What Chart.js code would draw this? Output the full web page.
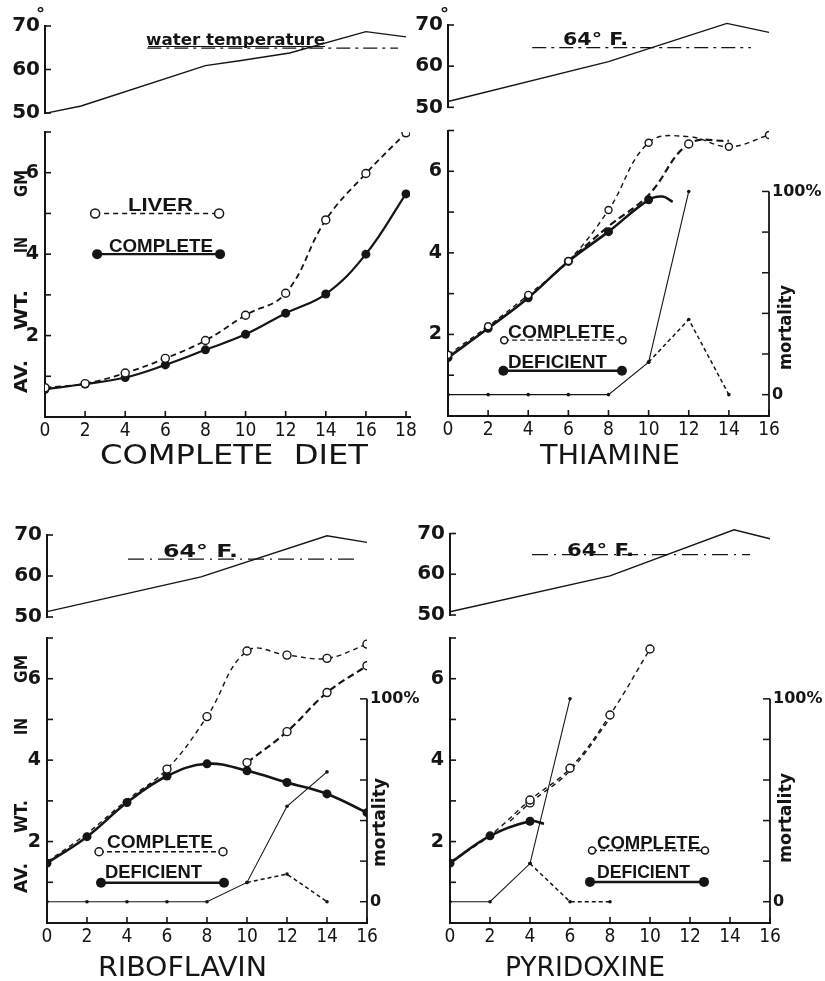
<!DOCTYPE html>
<html><head><meta charset="utf-8">
<script src="https://cdn.jsdelivr.net/npm/chart.js@4"></script>
<style>
html,body{margin:0;padding:0;background:#fff;}
body{width:825px;height:981px;position:relative;overflow:hidden;}
canvas{position:absolute;}
</style></head><body>
<script>
// ================= DATA =================
const tempTicks = [50, 60, 70];
const weightTicks = [1, 2, 3, 4, 5, 6, 7];
const weightLabels = [2, 4, 6];
const mortTicks = [0, 20, 40, 60, 80, 100];
const mortLabels = [0, 100];

// Panel 1 - complete diet
const p1XTicks = [0, 2, 4, 6, 8, 10, 12, 14, 16, 18];
const p1Days = [0, 2, 4, 6, 8, 10, 12, 14, 16, 18];
const p1Liver = [0.72, 0.82, 1.08, 1.44, 1.88, 2.5, 3.04, 4.84, 5.98, 6.98];
const p1Complete = [0.68, 0.81, 0.97, 1.28, 1.65, 2.03, 2.55, 3.02, 4.0, 5.48];
const p1TempDays = [0, 1.8, 8, 9.7, 12.2, 16, 18];
const p1Temp = [49.9, 51.6, 60.9, 62.0, 63.8, 68.7, 67.5];
const p1RefDays = [5.1, 17.6];
const p1Ref = 64.9;

// Panel 2 - thiamine
const p2XTicks = [0, 2, 4, 6, 8, 10, 12, 14, 16];
const p2Days = [0, 2, 4, 6, 8, 10, 12, 14, 16];
const p2Complete = [1.5, 2.2, 2.97, 3.8, 5.05, 6.7, 6.85, 6.6, 6.89];
const p2RecDays = [6, 8, 10, 12, 14];
const p2Rec = [3.8, 4.65, 5.42, 6.67, 6.75];
const p2DefDays = [0, 2, 4, 6, 8, 10];
const p2Def = [1.43, 2.15, 2.9, 3.79, 4.52, 5.3];
const p2DefTailDays = [10.7, 11.2];
const p2DefTail = [5.38, 5.25];
const p2MortDefDays = [0, 2, 4, 6, 8, 10, 12];
const p2MortDef = [0, 0, 0, 0, 0, 16, 100];
const p2MortRecDays = [10, 12, 14];
const p2MortRec = [16, 37, 0];
const p2TempDays = [0, 8, 13.9, 16];
const p2Temp = [51.4, 61.1, 70.4, 68.2];
const p2RefDays = [4.2, 15.1];
const p2Ref = 64.5;

// Panel 3 - riboflavin
const p3XTicks = [0, 2, 4, 6, 8, 10, 12, 14, 16];
const p3Days = [0, 2, 4, 6, 8, 10, 12, 14, 16];
const p3Complete = [1.5, 2.2, 3.02, 3.78, 5.07, 6.68, 6.58, 6.5, 6.85];
const p3RecDays = [10, 12, 14, 16];
const p3Rec = [3.94, 4.7, 5.66, 6.32];
const p3Def = [1.47, 2.12, 2.96, 3.61, 3.91, 3.74, 3.45, 3.17, 2.71];
const p3MortDefDays = [0, 2, 4, 6, 8, 10, 12, 14];
const p3MortDef = [0, 0, 0, 0, 0, 9.5, 47, 64];
const p3MortRecDays = [10, 12, 14];
const p3MortRec = [9.5, 13.6, 0];
const p3TempDays = [0, 7.7, 14, 16];
const p3Temp = [51.3, 59.8, 69.8, 68.2];
const p3RefDays = [4.05, 15.5];
const p3Ref = 64.1;

// Panel 4 - pyridoxine
const p4XTicks = [0, 2, 4, 6, 8, 10, 12, 14, 16];
const p4CompDays = [0, 2, 4, 6, 8, 10];
const p4Complete = [1.5, 2.15, 3.02, 3.8, 5.11, 6.73];
const p4RecDays = [3, 4, 6, 8];
const p4Rec = [2.5, 2.95, 3.74, 5.02];
const p4DefDays = [0, 2, 4];
const p4Def = [1.47, 2.14, 2.5];
const p4DefTailDays = [4.7];
const p4DefTail = [2.44];
const p4MortDefDays = [0, 2, 4, 6];
const p4MortDef = [0, 0, 18.8, 100];
const p4MortRecDays = [4, 6, 8];
const p4MortRec = [18.8, 0, 0];
const p4TempDays = [0, 8, 14.2, 16];
const p4Temp = [50.8, 59.6, 70.9, 68.7];
const p4RefDays = [4.1, 15];
const p4Ref = 64.8;

// ================= STYLE / HELPERS =================
const INK = '#151515';
const F_NARROW = "'Liberation Sans Narrow','DejaVu Sans Condensed','Liberation Sans',sans-serif";
const F_BOLD = "'DejaVu Sans','Liberation Sans',sans-serif";
const F_LEG = "'Liberation Sans','DejaVu Sans',sans-serif";

function pts(xs, ys) { return xs.map((x, i) => ({ x: x, y: ys[i] })); }

function addCanvas(box) {
  const c = document.createElement('canvas');
  c.width = box.w; c.height = box.h;
  c.style.left = box.x + 'px'; c.style.top = box.y + 'px';
  c.style.width = box.w + 'px'; c.style.height = box.h + 'px';
  document.body.appendChild(c);
  return c;
}

function fitText(ctx, box, text, x1, x2, base, font) {
  ctx.save();
  ctx.font = font; ctx.fillStyle = INK; ctx.textAlign = 'left'; ctx.textBaseline = 'alphabetic';
  const w = ctx.measureText(text).width;
  ctx.translate(x1 - box.x, base - box.y);
  ctx.scale((x2 - x1) / w, 1);
  ctx.fillText(text, 0, 0);
  ctx.restore();
}
function fitTextV(ctx, box, text, cx, yBottom, yTop, font) {
  ctx.save();
  ctx.font = font; ctx.fillStyle = INK; ctx.textAlign = 'left'; ctx.textBaseline = 'middle';
  const w = ctx.measureText(text).width;
  ctx.translate(cx - box.x, yBottom - box.y);
  ctx.rotate(-Math.PI / 2);
  ctx.scale((yBottom - yTop) / w, 1);
  ctx.fillText(text, 0, 0);
  ctx.restore();
}
function line(ctx, x1, y1, x2, y2, w, dash) {
  ctx.save();
  ctx.strokeStyle = INK; ctx.lineWidth = w; ctx.setLineDash(dash || []);
  ctx.beginPath(); ctx.moveTo(x1, y1); ctx.lineTo(x2, y2); ctx.stroke();
  ctx.restore();
}
function dot(ctx, x, y, r, open) {
  ctx.save();
  ctx.beginPath(); ctx.arc(x, y, r, 0, Math.PI * 2);
  if (open) { ctx.fillStyle = '#fff'; ctx.fill(); ctx.strokeStyle = INK; ctx.lineWidth = 1.5; ctx.stroke(); }
  else { ctx.fillStyle = INK; ctx.fill(); }
  ctx.restore();
}
function legendRow(ch, x1, x2, y, open, dash, lw, r) {
  const sx = ch.scales.x, sy = ch.scales.y, ctx = ch.ctx;
  const px1 = sx.getPixelForValue(x1), px2 = sx.getPixelForValue(x2), py = sy.getPixelForValue(y);
  line(ctx, px1, py, px2, py, lw, dash);
  dot(ctx, px1, py, r, open); dot(ctx, px2, py, r, open);
}

function solidDs(data, radii, extra) {
  return Object.assign({ data: data, borderColor: INK, backgroundColor: INK, borderWidth: 2.6, tension: 0.4,
    pointRadius: radii, pointBackgroundColor: INK, pointBorderColor: INK, pointBorderWidth: 0, fill: false }, extra || {});
}
function dashDs(data, dash, width, radii, extra) {
  return Object.assign({ data: data, borderColor: INK, backgroundColor: '#fff', borderWidth: width, borderDash: dash, tension: 0.4,
    pointRadius: radii, pointBackgroundColor: '#fff', pointBorderColor: INK, pointBorderWidth: 1.4, fill: false }, extra || {});
}
function mortDs(data, dash) {
  return { data: data, yAxisID: 'y2', borderColor: INK, backgroundColor: INK, borderWidth: dash ? 1.5 : 1.1, borderDash: dash || [],
    tension: 0, pointRadius: 1.8, pointBackgroundColor: INK, pointBorderWidth: 0, fill: false };
}

function commonMainDecor(ch, cfg) {
  const ctx = ch.ctx, a = ch.chartArea, sx = ch.scales.x, sy = ch.scales.y;
  weightTicks.forEach(v => { const py = sy.getPixelForValue(v); line(ctx, a.left, py, a.left + 6, py, 1.6); });
  cfg.xTicks.forEach(v => { const px = sx.getPixelForValue(v); if (v > 0) line(ctx, px, a.bottom, px, a.bottom - 6, 1.6); });
  if (cfg.mort) {
    const sm = ch.scales.y2;
    const top = sm.getPixelForValue(100);
    line(ctx, a.right, a.bottom + 1, a.right, top, 1.8);
    mortTicks.forEach(v => { const py = sm.getPixelForValue(v); line(ctx, a.right, py, a.right - 7, py, 1.5); });
  }
}

function buildMain(cfg) {
  const box = cfg.box, area = cfg.area;
  const c = addCanvas(box);
  const leftW = area.l - box.x, bottomH = box.y + box.h - area.b, rightW = box.x + box.w - area.r;
  const scales = {
    x: { type: 'linear', min: 0, max: cfg.xmax, grid: { display: false, drawTicks: false },
      border: { display: true, color: INK, width: 2 },
      ticks: { color: INK, font: { family: F_NARROW, size: 19 }, padding: 3, maxRotation: 0, autoSkip: false },
      afterBuildTicks: s => { s.ticks = cfg.xTicks.map(v => ({ value: v })); },
      afterFit: s => { s.height = bottomH; } },
    y: { type: 'linear', min: 0, max: 7, grid: { display: false, drawTicks: false },
      border: { display: true, color: INK, width: 2 },
      ticks: { color: INK, font: { family: F_BOLD, size: 19, weight: 'bold' }, padding: 6 },
      afterBuildTicks: s => { s.ticks = weightLabels.map(v => ({ value: v })); },
      afterFit: s => { s.width = leftW; } }
  };
  if (cfg.mort) {
    scales.y2 = { type: 'linear', position: 'right', min: -10.5, max: 130, grid: { display: false, drawTicks: false },
      border: { display: false },
      ticks: { color: INK, font: { family: F_BOLD, size: 16, weight: 'bold' }, padding: 3,
        callback: v => (v === 100 ? '100%' : String(v)) },
      afterBuildTicks: s => { s.ticks = mortLabels.map(v => ({ value: v })); },
      afterFit: s => { s.width = rightW; } };
  }
  new Chart(c, {
    type: 'line',
    data: { datasets: cfg.datasets },
    options: {
      responsive: false, animation: false, devicePixelRatio: 1, events: [],
      layout: { padding: { top: area.t - box.y, left: 0, bottom: 0, right: cfg.mort ? 0 : rightW } },
      plugins: { legend: { display: false }, tooltip: { enabled: false } },
      scales: scales
    },
    plugins: [{ id: 'decor', afterDraw: ch => { commonMainDecor(ch, cfg); cfg.decor(ch, ch.ctx, box); } }]
  });
}

function buildTemp(cfg) {
  const box = cfg.box, area = cfg.area;
  const c = addCanvas(box);
  new Chart(c, {
    type: 'line',
    data: { datasets: [
      { data: pts(cfg.days, cfg.temps), borderColor: INK, borderWidth: 1.4, pointRadius: 0, tension: 0, clip: false, fill: false },
      { data: pts(cfg.refDays, cfg.refDays.map(() => cfg.ref)), borderColor: INK, borderWidth: 1.3, borderDash: cfg.dash,
        pointRadius: 0, tension: 0, clip: false, fill: false }
    ] },
    options: {
      responsive: false, animation: false, devicePixelRatio: 1, events: [],
      layout: { padding: { top: area.t - box.y, bottom: box.y + box.h - area.b, left: 0, right: box.x + box.w - area.r } },
      plugins: { legend: { display: false }, tooltip: { enabled: false } },
      scales: {
        x: { type: 'linear', display: false, min: 0, max: cfg.xmax },
        y: { type: 'linear', min: 50, max: 70, grid: { display: false, drawTicks: false },
          border: { display: true, color: INK, width: 2 },
          ticks: { color: INK, font: { family: F_BOLD, size: 20, weight: 'bold' }, padding: 5 },
          afterBuildTicks: s => { s.ticks = tempTicks.map(v => ({ value: v })); },
          afterFit: s => { s.width = area.l - box.x; } }
      }
    },
    plugins: [{ id: 'tdecor', afterDraw: ch => {
      const a = ch.chartArea, sy = ch.scales.y;
      tempTicks.forEach(v => { const py = sy.getPixelForValue(v); line(ch.ctx, a.left, py, a.left + 6, py, 1.6); });
      cfg.decor(ch, ch.ctx, box);
    } }]
  });
}

const LEGFONT = 'bold 18px ' + F_LEG;
const TITLEFONT = '27px ' + F_NARROW;
const YTFONT = 'bold 18px ' + F_BOLD;
const MFONT = 'bold 17px ' + F_BOLD;

function yTitle(ctx, box, spans) {
  const words = ['AV.', 'WT.', 'IN', 'GM'];
  words.forEach((w, i) => fitTextV(ctx, box, w, 22, spans[i][0], spans[i][1], YTFONT));
}

// ================= PANEL 1 =================
buildTemp({
  box: { x: 0, y: 0, w: 425, h: 135 }, area: { l: 45, t: 26, r: 410, b: 113 }, xmax: 18.2,
  days: p1TempDays, temps: p1Temp, refDays: p1RefDays, ref: p1Ref, dash: [14, 5, 3, 5],
  decor: (ch, ctx, box) => {
    fitText(ctx, box, '°', 36, 45, 20, 'bold 17px ' + F_BOLD);
    fitText(ctx, box, 'water temperature', 146, 325, 44.5, 'bold 16px ' + F_BOLD);
    line(ctx, 148 - box.x, 46.5 - box.y, 325 - box.x, 46.5 - box.y, 1.2);
  }
});
buildMain({
  box: { x: 0, y: 100, w: 425, h: 380 }, area: { l: 45, t: 132, r: 410, b: 417 }, xmax: 18.2, xTicks: p1XTicks, mort: false,
  datasets: [
    dashDs(pts(p1Days, p1Liver), [6, 4], 1.8, 4),
    solidDs(pts(p1Days, p1Complete), 4.5, { borderWidth: 2.2 })
  ],
  decor: (ch, ctx, box) => {
    legendRow(ch, 2.5, 8.68, 5, true, [5, 4], 1.6, 4.5);
    legendRow(ch, 2.6, 8.73, 4, false, [], 2.2, 5);
    fitText(ctx, box, 'LIVER', 128, 193, 211, LEGFONT);
    fitText(ctx, box, 'COMPLETE', 109, 213, 251.5, LEGFONT);
    fitText(ctx, box, 'COMPLETE  DIET', 100, 368, 464, TITLEFONT);
    yTitle(ctx, box, [[393, 360], [330, 290], [253, 237], [197, 170]]);
  }
});

// ================= PANEL 2 =================
buildTemp({
  box: { x: 403, y: 0, w: 422, h: 130 }, area: { l: 448, t: 25, r: 769, b: 107.3 }, xmax: 16,
  days: p2TempDays, temps: p2Temp, refDays: p2RefDays, ref: p2Ref, dash: [14, 5, 3, 5],
  decor: (ch, ctx, box) => {
    fitText(ctx, box, '°', 440, 449, 20, 'bold 17px ' + F_BOLD);
    fitText(ctx, box, '64° F.', 563, 628, 45, 'bold 18px ' + F_BOLD);
  }
});
buildMain({
  box: { x: 403, y: 100, w: 422, h: 380 }, area: { l: 448, t: 130.5, r: 769, b: 416 }, xmax: 16, xTicks: p2XTicks, mort: true,
  datasets: [
    mortDs(pts(p2MortDefDays, p2MortDef)),
    mortDs(pts(p2MortRecDays, p2MortRec), [4, 3]),
    dashDs(pts(p2Days, p2Complete), [5, 4], 1.4, [3.5, 3.5, 3.5, 3.5, 3.5, 3.5, 0, 3.5, 3.5]),
    dashDs(pts(p2RecDays, p2Rec), [7, 4], 2.2, [0, 0, 0, 4, 0]),
    solidDs(pts(p2DefDays.concat(p2DefTailDays), p2Def.concat(p2DefTail)), p2DefDays.map(() => 4.5).concat(p2DefTailDays.map(() => 0)))
  ],
  decor: (ch, ctx, box) => {
    legendRow(ch, 2.8, 8.7, 1.86, true, [5, 3], 1.4, 3.5);
    legendRow(ch, 2.76, 8.67, 1.11, false, [], 2.5, 5);
    fitText(ctx, box, 'COMPLETE', 508, 615, 338, LEGFONT);
    fitText(ctx, box, 'DEFICIENT', 508, 607, 368, LEGFONT);
    fitText(ctx, box, 'THIAMINE', 540, 680, 464, TITLEFONT);
    fitTextV(ctx, box, 'mortality', 787, 370, 285, MFONT);
  }
});

// ================= PANEL 3 =================
buildTemp({
  box: { x: 0, y: 505, w: 420, h: 135 }, area: { l: 47, t: 535, r: 367, b: 617 }, xmax: 16,
  days: p3TempDays, temps: p3Temp, refDays: p3RefDays, ref: p3Ref, dash: [16, 6, 2, 6],
  decor: (ch, ctx, box) => {
    fitText(ctx, box, '64° F.', 163, 238, 556.5, 'bold 18px ' + F_BOLD);
  }
});
buildMain({
  box: { x: 0, y: 608, w: 440, h: 373 }, area: { l: 47, t: 638, r: 367, b: 923 }, xmax: 16, xTicks: p3XTicks, mort: true,
  datasets: [
    mortDs(pts(p3MortDefDays, p3MortDef)),
    mortDs(pts(p3MortRecDays, p3MortRec), [4, 3]),
    dashDs(pts(p3Days, p3Complete), [5, 4], 1.4, [0, 0, 0, 4, 4, 4, 4, 4, 4]),
    dashDs(pts(p3RecDays, p3Rec), [7, 4], 2.2, 4),
    solidDs(pts(p3Days, p3Def), 4.5)
  ],
  decor: (ch, ctx, box) => {
    legendRow(ch, 2.6, 8.8, 1.75, true, [5, 3], 1.4, 4);
    legendRow(ch, 2.7, 8.85, 0.99, false, [], 2.5, 5);
    fitText(ctx, box, 'COMPLETE', 107, 213, 848, LEGFONT);
    fitText(ctx, box, 'DEFICIENT', 105, 202, 878, LEGFONT);
    fitText(ctx, box, 'RIBOFLAVIN', 98, 267, 976, TITLEFONT);
    yTitle(ctx, box, [[893, 863], [833, 800], [735, 718], [683, 655]]);
    fitTextV(ctx, box, 'mortality', 381, 867, 778, MFONT);
  }
});

// ================= PANEL 4 =================
buildTemp({
  box: { x: 405, y: 503, w: 420, h: 135 }, area: { l: 450, t: 533.5, r: 770, b: 615 }, xmax: 16,
  days: p4TempDays, temps: p4Temp, refDays: p4RefDays, ref: p4Ref, dash: [16, 6, 2, 6],
  decor: (ch, ctx, box) => {
    fitText(ctx, box, '64° F.', 567, 634, 555.5, 'bold 18px ' + F_BOLD);
  }
});
buildMain({
  box: { x: 405, y: 608, w: 420, h: 373 }, area: { l: 450, t: 638, r: 770, b: 923 }, xmax: 16, xTicks: p4XTicks, mort: true,
  datasets: [
    mortDs(pts(p4MortDefDays, p4MortDef)),
    mortDs(pts(p4MortRecDays, p4MortRec), [4, 3]),
    dashDs(pts(p4CompDays, p4Complete), [5, 4], 1.4, [0, 0, 4, 4, 4, 4]),
    dashDs(pts(p4RecDays, p4Rec), [5, 4], 1.4, [0, 4, 0, 0]),
    solidDs(pts(p4DefDays.concat(p4DefTailDays), p4Def.concat(p4DefTail)), p4DefDays.map(() => 4.5).concat(p4DefTailDays.map(() => 0)))
  ],
  decor: (ch, ctx, box) => {
    legendRow(ch, 7.1, 12.75, 1.78, true, [5, 3], 1.4, 3.5);
    legendRow(ch, 7.0, 12.7, 1.01, false, [], 2.5, 5);
    fitText(ctx, box, 'COMPLETE', 597, 700, 849, LEGFONT);
    fitText(ctx, box, 'DEFICIENT', 597, 690, 878, LEGFONT);
    fitText(ctx, box, 'PYRIDOXINE', 505, 665, 976, TITLEFONT);
    fitTextV(ctx, box, 'mortality', 787, 863, 773, MFONT);
  }
});
</script>
</body></html>
